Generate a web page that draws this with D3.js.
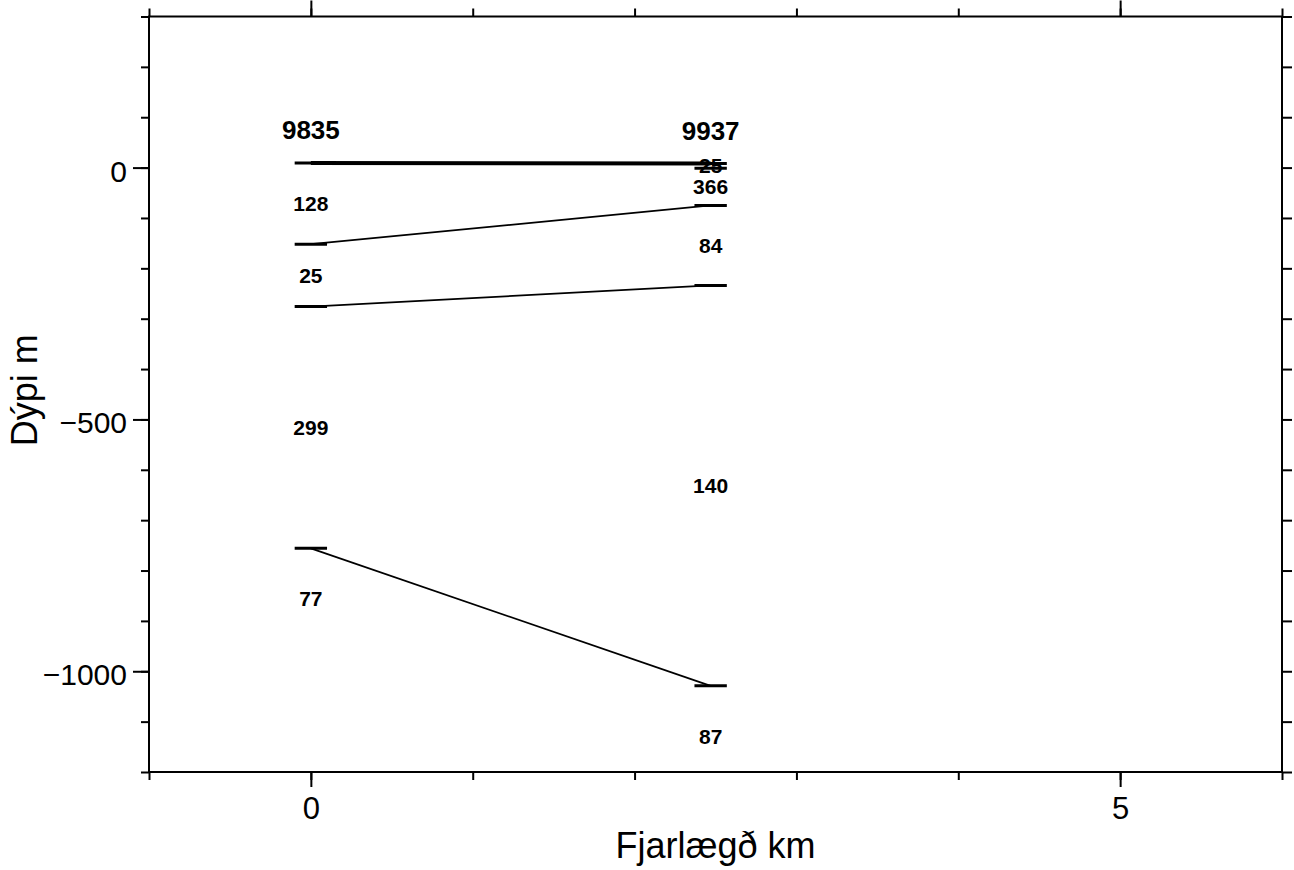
<!DOCTYPE html>
<html>
<head>
<meta charset="utf-8">
<script src="https://cdn.jsdelivr.net/npm/d3@7"></script>
<style>
  html, body { margin: 0; padding: 0; background: #fff; }
  svg { display: block; font-family: "Liberation Sans", Arial, Helvetica, sans-serif; }
</style>
</head>
<body>
<svg id="chart" width="1294" height="870"></svg>
<script>
// ---- data ----
const soundings = ["9835", "9937"];
const distancesKm = [0, 2.47];
// layer boundary elevations (m), top first
const boundaries9835 = [9, -152, -276, -756];
const boundaries9937 = [8, -1.5, -75, -234, -1029];
// resistivity of each layer (Ohm-m), top first; last is the half-space
const resist9835 = [128, 25, 299, 77];
const resist9937 = [25, 366, 84, 140, 87];
// boundary index pairs joined between the two soundings
const links = [[0, 0], [1, 2], [2, 3], [3, 4]];
const yMajorTicks = [0, -500, -1000];
const xMajorTicks = [0, 5];
const xLabel = "Fjarlægð km";
const yLabel = "Dýpi m";

const boundaries = [boundaries9835, boundaries9937];
const resist = [resist9835, resist9937];

// ---- layout ----
const L = 149, R = 1282, T = 16.5, B = 772;
const svg = d3.select("#chart");
const x = d3.scaleLinear().domain([-1, 6]).range([L, R]);
const y = d3.scaleLinear().domain([300, -1200]).range([T, B]);

const minorY = d3.range(-1200, 301, 100);
const minorX = d3.range(-1, 7, 1);

function styleAxis(g) {
  g.select(".domain").remove();
  g.selectAll(".tick line").attr("stroke", "#000").attr("stroke-width", 2);
}

// left minor
svg.append("g").attr("transform", `translate(${L},0)`)
  .call(d3.axisLeft(y).tickValues(minorY).tickSize(8).tickFormat(""))
  .call(styleAxis);
// left major with labels
svg.append("g").attr("transform", `translate(${L},0)`)
  .call(d3.axisLeft(y).tickValues(yMajorTicks).tickSize(16).tickPadding(6)
    .tickFormat(d => d === 0 ? "0" : "\u2212" + Math.abs(d)))
  .call(styleAxis)
  .call(g => g.selectAll("text").attr("fill", "#000").attr("font-size", 30)
    .attr("font-family", "Liberation Sans, Arial, sans-serif")
    .attr("x", -22).attr("dy", 13.5));
// right
svg.append("g").attr("transform", `translate(${R},0)`)
  .call(d3.axisRight(y).tickValues(minorY).tickSize(10).tickFormat(""))
  .call(styleAxis);
// top
svg.append("g").attr("transform", `translate(0,${T})`)
  .call(d3.axisTop(x).tickValues(minorX).tickSize(8).tickFormat(""))
  .call(styleAxis);
svg.append("g").attr("transform", `translate(0,${T})`)
  .call(d3.axisTop(x).tickValues(xMajorTicks).tickSize(16).tickFormat(""))
  .call(styleAxis);
// bottom
svg.append("g").attr("transform", `translate(0,${B})`)
  .call(d3.axisBottom(x).tickValues(minorX).tickSize(8).tickFormat(""))
  .call(styleAxis);
svg.append("g").attr("transform", `translate(0,${B})`)
  .call(d3.axisBottom(x).tickValues(xMajorTicks).tickSize(15).tickFormat(d3.format("d")))
  .call(styleAxis)
  .call(g => g.selectAll("text").attr("fill", "#000").attr("font-size", 31)
    .attr("font-family", "Liberation Sans, Arial, sans-serif")
    .attr("y", 47).attr("dy", 0));

// frame
svg.append("rect").attr("x", L).attr("y", T).attr("width", R - L).attr("height", B - T)
  .attr("fill", "none").attr("stroke", "#000").attr("stroke-width", 2);

// axis titles
svg.append("text").attr("x", (L + R) / 2).attr("y", 858).attr("text-anchor", "middle")
  .attr("font-size", 36).attr("fill", "#000").text(xLabel);
svg.append("text").attr("transform", `translate(37,${(T + B) / 2 - 4}) rotate(-90)`)
  .attr("text-anchor", "middle").attr("font-size", 36).attr("fill", "#000").text(yLabel);

// connecting lines
const plot = svg.append("g");
links.forEach(([a, b], i) => {
  plot.append("line")
    .attr("x1", x(distancesKm[0])).attr("y1", y(boundaries[0][a]))
    .attr("x2", x(distancesKm[1])).attr("y2", y(boundaries[1][b]))
    .attr("stroke", "#000").attr("stroke-width", i === 0 ? 4 : 1.7);
});

// boundary markers
soundings.forEach((s, k) => {
  boundaries[k].forEach(z => {
    plot.append("line")
      .attr("x1", x(distancesKm[k] - 0.1)).attr("x2", x(distancesKm[k] + 0.1))
      .attr("y1", y(z)).attr("y2", y(z))
      .attr("stroke", "#000").attr("stroke-width", 3);
  });
  // sounding name
  plot.append("text").attr("x", x(distancesKm[k])).attr("y", y(boundaries[k][0]) - 24)
    .attr("text-anchor", "middle").attr("font-size", 26).attr("font-weight", "bold")
    .attr("fill", "#000").text(s);
  // resistivity labels
  resist[k].forEach((r, i) => {
    const bz = boundaries[k];
    const zc = i < bz.length - 1 ? (bz[i] + bz[i + 1]) / 2 : bz[i] - 100;
    plot.append("text").attr("x", x(distancesKm[k])).attr("y", y(zc)).attr("dy", 7.5)
      .attr("text-anchor", "middle").attr("font-size", 21).attr("font-weight", "bold")
      .attr("fill", "#000").text(r);
  });
});
</script>
</body>
</html>
